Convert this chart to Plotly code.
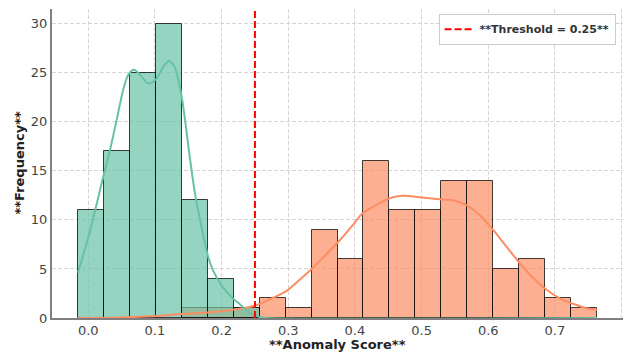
import plotly.graph_objects as go

# ---- data ----
bin_start = -0.0155
bin_width = 0.03894
green_counts = [11, 17, 25, 30, 12, 4, 1, 0, 0, 0, 0, 0, 0, 0, 0, 0, 0, 0, 0, 0]
orange_counts = [0, 0, 0, 0, 1, 1, 1, 2, 1, 9, 6, 16, 11, 11, 14, 14, 5, 6, 2, 1]

green_kde_x = [-0.0155, 0.002, 0.0225, 0.0325, 0.0426, 0.0525, 0.06, 0.0686, 0.0776, 0.09,
               0.1025, 0.1125, 0.121, 0.13, 0.14, 0.1525, 0.16, 0.17, 0.18, 0.1875, 0.2,
               0.2168, 0.2274, 0.242, 0.257, 0.267, 0.7632]
green_kde_y = [4.6, 8.7, 14.4, 17.1, 20.2, 23.3, 24.8, 25.3, 24.8, 23.9,
               24.4, 25.6, 26.2, 25.5, 22.6, 16.3, 12.7, 9.25, 6.2, 4.8, 3.3,
               2.0, 1.4, 0.5, 0.1, 0.0, 0.0]

orange_kde_x = [-0.0155, 0.05, 0.093, 0.14, 0.168, 0.218, 0.25, 0.272, 0.2975, 0.317, 0.335,
                0.357, 0.377, 0.397, 0.412, 0.437, 0.452, 0.472, 0.497, 0.527, 0.547, 0.567,
                0.587, 0.607, 0.627, 0.647, 0.667, 0.687, 0.707, 0.727, 0.747, 0.7632]
orange_kde_y = [0.0, 0.06, 0.17, 0.4, 0.51, 0.85, 1.25, 1.9, 2.77, 3.9, 5.0,
                6.5, 7.9, 9.5, 10.7, 11.7, 12.2, 12.45, 12.3, 12.1, 12.0, 11.5,
                10.5, 9.0, 7.3, 5.6, 4.1, 2.9, 2.0, 1.45, 1.0, 0.85]

threshold = 0.25
threshold_label = "**Threshold = 0.25**"
x_ticks = [0.0, 0.1, 0.2, 0.3, 0.4, 0.5, 0.6, 0.7, 0.8]
y_ticks = [0, 5, 10, 15, 20, 25, 30]
x_title = "**Anomaly Score**"
y_title = "**Frequency**"

GREEN = "#66c2a5"
ORANGE = "#fc8d62"
FONT = "DejaVu Sans"

fig = go.Figure()


def add_hist(counts, fill):
    xs, ys = [], []
    for i, c in enumerate(counts):
        if c > 0:
            xs.append(bin_start + (i + 0.5) * bin_width)
            ys.append(c)
    fig.add_trace(go.Bar(
        x=xs, y=ys, width=bin_width,
        marker=dict(color=fill, line=dict(color="rgba(0,0,0,0.75)", width=1)),
        showlegend=False, hoverinfo="skip"))


add_hist(orange_counts, "rgba(252,141,98,0.7)")
add_hist(green_counts, "rgba(102,194,165,0.7)")

fig.add_trace(go.Scatter(x=orange_kde_x, y=orange_kde_y, mode="lines",
                         line=dict(color=ORANGE, width=2, shape="spline", smoothing=0.8),
                         showlegend=False))
fig.add_trace(go.Scatter(x=green_kde_x, y=green_kde_y, mode="lines",
                         line=dict(color=GREEN, width=2, shape="spline", smoothing=0.8),
                         showlegend=False))

fig.add_trace(go.Scatter(x=[threshold, threshold], y=[0, 31.5], mode="lines",
                         name=threshold_label,
                         line=dict(color="#ff0000", width=2, dash="7px,3px")))

fig.update_layout(
    template="none",
    width=624, height=354,
    margin=dict(l=52, r=1, t=9, b=36, autoexpand=False),
    paper_bgcolor="white", plot_bgcolor="white",
    barmode="overlay", bargap=0,
    font=dict(family=FONT, size=13, color="#444444"),
    legend=dict(x=0.987, y=0.985, xanchor="right", yanchor="top",
                bgcolor="white", bordercolor="#cccccc", borderwidth=1,
                itemwidth=30, tracegroupgap=0,
                font=dict(family=FONT, size=11, color="#333333", weight="bold")),
    annotations=[
        dict(text=x_title, xref="paper", yref="paper", x=0.5, y=0, yshift=-26,
             xanchor="center", yanchor="middle", showarrow=False,
             font=dict(family=FONT, size=13, color="#222222", weight="bold")),
        dict(text=y_title, xref="paper", yref="paper", x=0, y=0.5, xshift=-33,
             xanchor="center", yanchor="middle", textangle=-90, showarrow=False,
             font=dict(family=FONT, size=13, color="#222222", weight="bold")),
    ],
)

fig.update_xaxes(range=[-0.0544, 0.8021], tickvals=x_ticks,
                 ticktext=[f"{v:.1f}" for v in x_ticks],
                 showgrid=True, gridcolor="#d5d5d5", gridwidth=1, griddash="4px,2px",
                 zeroline=False, showline=True, linecolor="#808080", linewidth=1.5,
                 ticks="", automargin=False, layer="below traces",
                 tickfont=dict(family=FONT, size=13, color="#444444"))
fig.update_yaxes(range=[0, 31.5], tickvals=y_ticks,
                 showgrid=True, gridcolor="#d5d5d5", gridwidth=1, griddash="4px,2px",
                 zeroline=False, showline=True, linecolor="#808080", linewidth=2,
                 ticks="", automargin=False,
                 tickfont=dict(family=FONT, size=13, color="#444444"))

fig.write_html("out.html", config={"displayModeBar": False},
               post_script="document.body.style.margin='0';document.body.style.padding='0';")
